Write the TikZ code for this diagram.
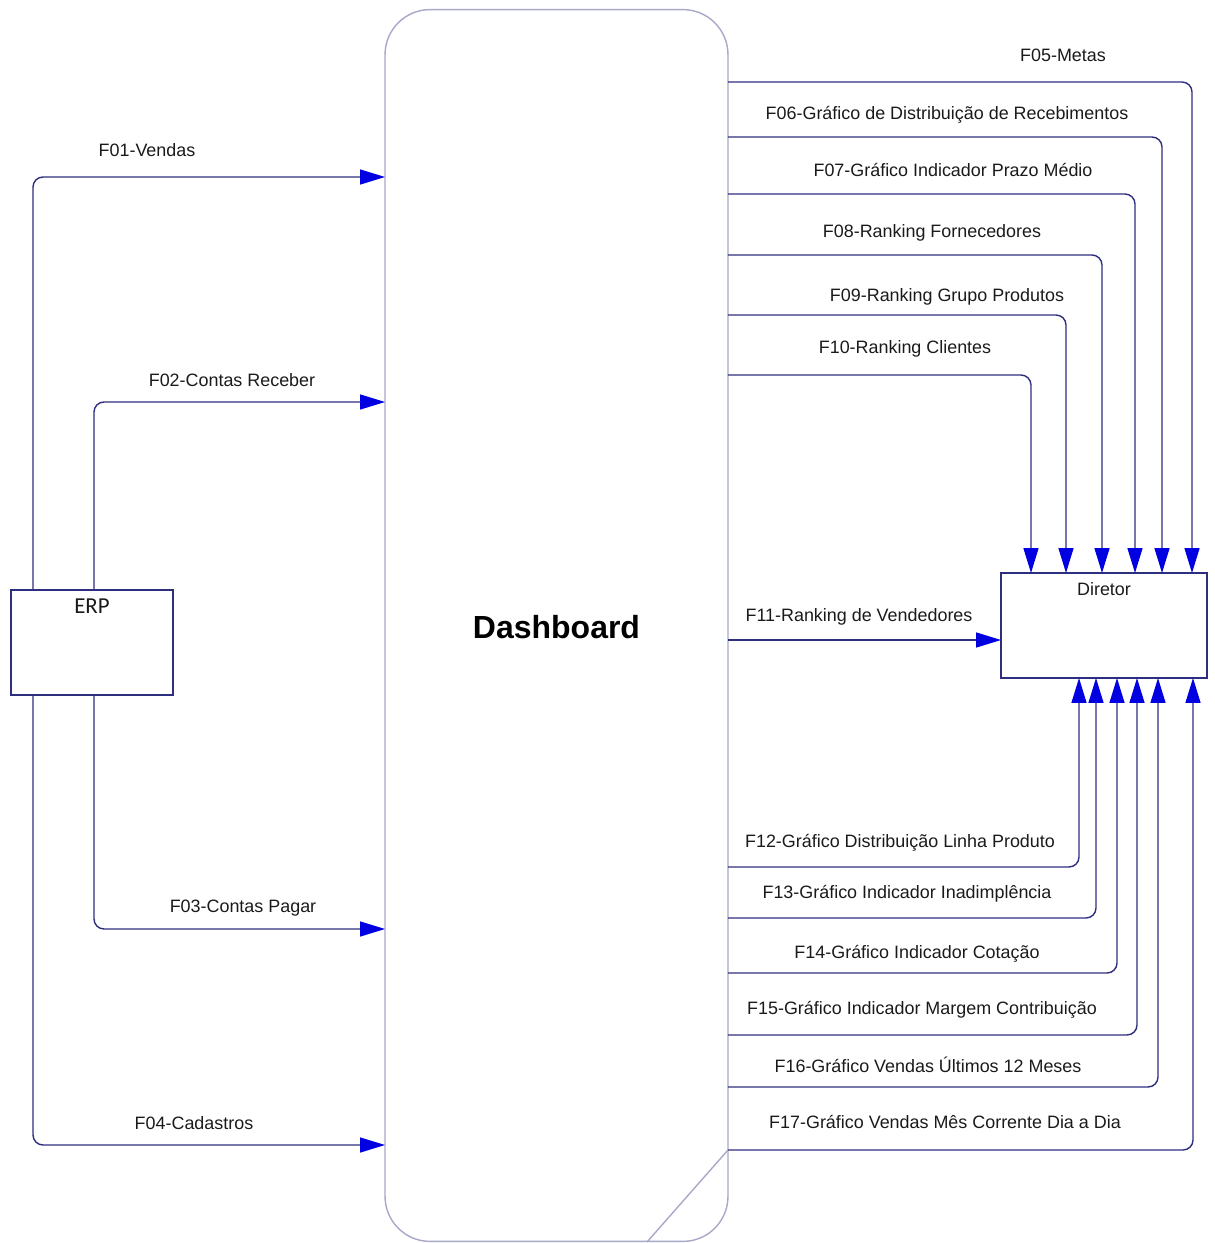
\documentclass[tikz,border=0pt]{standalone}
\usepackage{fontspec}
\setmainfont{Liberation Sans}
\newfontfamily\erpfont{Carlito}
\usetikzlibrary{arrows.meta}
\definecolor{navy}{HTML}{2E2E7E}
\definecolor{tipblue}{HTML}{0000E0}
\definecolor{lav}{HTML}{A8A8C8}
\definecolor{txt}{HTML}{1A1A1A}
\tikzset{
  flow/.style={draw=navy, line width=0.8pt, rounded corners=0.2cm,
    -{Triangle[length=0.5cm, width=0.3cm, fill=tipblue, color=tipblue]}},
  box/.style={draw=navy, line width=0.8pt, rectangle, inner sep=0pt, outer sep=0pt},
  lbl/.style={text=txt, font=\fontsize{10.2pt}{12pt}\selectfont, inner sep=0pt},
}
\begin{document}
\begin{tikzpicture}[x=0.02cm, y=-0.02cm]
\useasboundingbox (0,0) rectangle (1214,1243);
% main nodes
\node[draw=lav, line width=0.8pt, rectangle, rounded corners=0.9cm, inner sep=0pt, outer sep=0pt,
      minimum width=6.86cm, minimum height=24.64cm] (dash) at (556.5,625.5) {};
\node[font=\bfseries\fontsize{18.2pt}{20pt}\selectfont, text=black] (dasht) at (556.5,627) {Dashboard};
\node[box, minimum width=3.24cm, minimum height=2.1cm] (erp) at (92,642.5) {};
\node[text=txt, font=\erpfont\fontsize{13pt}{15pt}\selectfont, inner sep=0pt] (erpt) at (92,606) {ERP};
\node[box, minimum width=4.12cm, minimum height=2.1cm] (dir) at (1104,625.5) {};
\node[lbl] (dirt) at (1104,589) {Diretor};
% cut line on dashboard
\coordinate (dcut) at (647,1242);
\draw[lav, line width=0.8pt] (dash.east |- 0,1150) -- (dcut);
% inputs from ERP
\draw[flow] (erp.north -| 33,0) |- (dash.west |- 0,177);
\draw[flow] (erp.north -| 94,0) |- (dash.west |- 0,402);
\draw[flow] (erp.south -| 94,0) |- (dash.west |- 0,929);
\draw[flow] (erp.south -| 33,0) |- (dash.west |- 0,1145);
\node[lbl] (l01) at (147,150) {F01-Vendas};
\node[lbl] (l02) at (232,380) {F02-Contas Receber};
\node[lbl] (l03) at (243,908) {F03-Contas Pagar};
\node[lbl] (l04) at (194,1123) {F04-Cadastros};
% outputs to Diretor (top)
\draw[flow] (dash.east |- 0,82) -| (dir.north -| 1192,0);
\draw[flow] (dash.east |- 0,137) -| (dir.north -| 1162,0);
\draw[flow] (dash.east |- 0,194) -| (dir.north -| 1135,0);
\draw[flow] (dash.east |- 0,255) -| (dir.north -| 1102,0);
\draw[flow] (dash.east |- 0,315) -| (dir.north -| 1066,0);
\draw[flow] (dash.east |- 0,375) -| (dir.north -| 1031,0);
\node[lbl] (l05) at (1063,55) {F05-Metas};
\node[lbl] (l06) at (947,115) {F06-Gráfico de Distribuição de Recebimentos};
\node[lbl] (l07) at (953,170) {F07-Gráfico Indicador Prazo Médio};
\node[lbl] (l08) at (932,233) {F08-Ranking Fornecedores};
\node[lbl] (l09) at (947,297) {F09-Ranking Grupo Produtos};
\node[lbl] (l10) at (905,349) {F10-Ranking Clientes};
% F11
\draw[flow] (dash.east |- 0,640) -- (dir.west |- 0,640);
\node[lbl] (l11) at (859,617) {F11-Ranking de Vendedores};
% outputs to Diretor (bottom)
\draw[flow] (dash.east |- 0,867) -| (dir.south -| 1079,0);
\draw[flow] (dash.east |- 0,918) -| (dir.south -| 1096,0);
\draw[flow] (dash.east |- 0,973) -| (dir.south -| 1117,0);
\draw[flow] (dash.east |- 0,1035) -| (dir.south -| 1137,0);
\draw[flow] (dash.east |- 0,1087) -| (dir.south -| 1158,0);
\draw[flow] (dash.east |- 0,1150) -| (dir.south -| 1193,0);
\node[lbl] (l12) at (900,843) {F12-Gráfico Distribuição Linha Produto};
\node[lbl] (l13) at (907,894) {F13-Gráfico Indicador Inadimplência};
\node[lbl] (l14) at (917,954) {F14-Gráfico Indicador Cotação};
\node[lbl] (l15) at (922,1010) {F15-Gráfico Indicador Margem Contribuição};
\node[lbl] (l16) at (928,1065) {F16-Gráfico Vendas Últimos 12 Meses};
\node[lbl] (l17) at (945,1122) {F17-Gráfico Vendas Mês Corrente Dia a Dia};
\end{tikzpicture}
\end{document}
